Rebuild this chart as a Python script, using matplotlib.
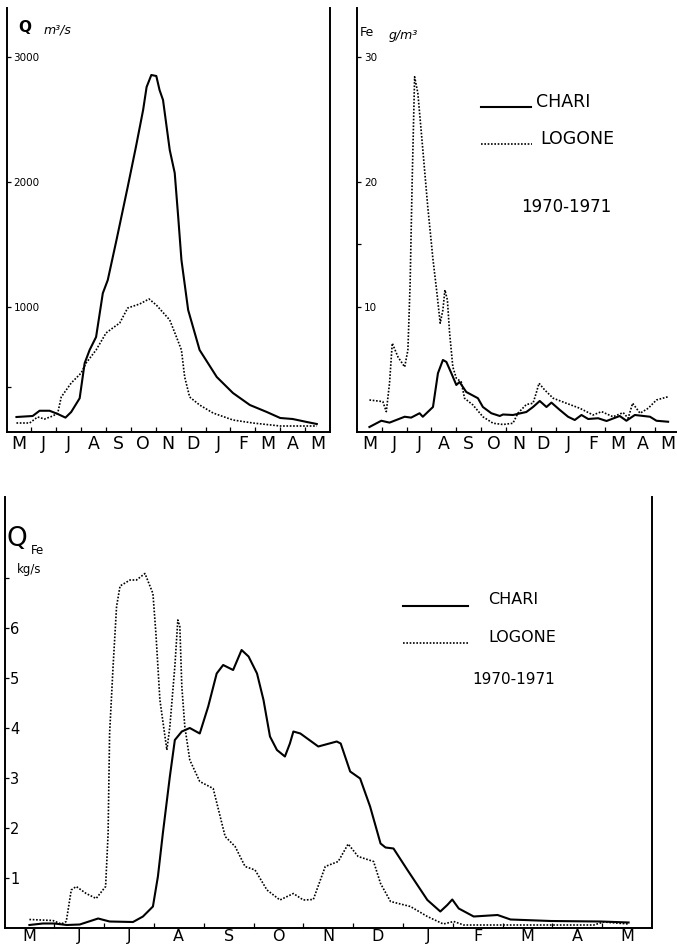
import numpy as np
import matplotlib
matplotlib.use("Agg")
from matplotlib import pyplot as plt

plt.rcParams['font.family'] = ['DejaVu Sans']

# x positions are in months counted from 1 May 1970
months = ['M', 'J', 'J', 'A', 'S', 'O', 'N', 'D', 'J', 'F', 'M', 'A', 'M']

# --- discharge Q (m3/s)
q_chari_x = [0.4, 1.05, 1.33, 1.73, 2.06, 2.37, 2.6, 2.94, 3.14, 3.34, 3.6, 3.87, 4.07, 4.42,
             4.87, 5.2, 5.49, 5.63, 5.82, 6.02, 6.15, 6.29, 6.56, 6.76, 6.9, 7.03, 7.3, 7.76,
             8.45, 9.1, 9.78, 10.46, 11.0, 11.5, 12.07, 12.47]
q_chari_y = [120, 128, 170, 170, 144, 115, 160, 270, 550, 656, 760, 1110, 1216, 1536,
             1960, 2280, 2576, 2760, 2856, 2848, 2736, 2656, 2256, 2072, 1720, 1376, 976, 656,
             440, 312, 216, 160, 112, 104, 80, 64]
q_logone_x = [0.4, 0.93, 1.25, 1.53, 1.86, 2.06, 2.2, 2.6, 3.0, 3.2, 3.6, 4.0, 4.27, 4.55,
              4.87, 5.35, 5.73, 6.02, 6.56, 6.83, 7.03, 7.16, 7.36, 7.76, 8.3, 9.1, 9.9, 11.0, 12.47]
q_logone_y = [72, 72, 120, 104, 128, 152, 280, 392, 472, 552, 656, 792, 832, 872,
              992, 1024, 1064, 1016, 896, 760, 656, 440, 280, 216, 152, 96, 72, 48, 48]

# --- iron concentration Fe (g/m3)
fe_chari_x = [0.5, 0.98, 1.31, 1.92, 2.18, 2.52, 2.65, 3.06, 3.26, 3.46, 3.6, 3.8, 4.0, 4.13,
              4.4, 4.87, 5.07, 5.41, 5.75, 5.88, 6.28, 6.82, 7.09, 7.36, 7.63, 7.83, 8.17,
              8.5, 8.77, 9.04, 9.31, 9.71, 10.05, 10.58, 10.85, 11.19, 11.8, 12.06, 12.53]
fe_chari_y = [0.4, 0.9, 0.75, 1.22, 1.15, 1.5, 1.22, 2.0, 4.7, 5.76, 5.6, 4.7, 3.76, 4.0,
              3.2, 2.7, 2.0, 1.5, 1.28, 1.4, 1.36, 1.6, 2.0, 2.48, 2.0, 2.35, 1.76,
              1.22, 0.96, 1.36, 1.04, 1.1, 0.88, 1.28, 0.9, 1.36, 1.22, 0.9, 0.82]
fe_logone_x = [0.5, 1.04, 1.18, 1.31, 1.42, 1.65, 1.92, 2.05, 2.14, 2.22, 2.32, 2.45, 2.65,
               2.85, 3.06, 3.22, 3.35, 3.46, 3.54, 3.64, 3.73, 3.86, 4.0, 4.2, 4.33, 4.67,
               5.07, 5.48, 5.88, 6.28, 6.48, 6.82, 7.09, 7.23, 7.33, 7.56, 7.9, 8.43, 8.97,
               9.51, 9.85, 10.31, 10.72, 10.92, 11.1, 11.4, 11.73, 12.06, 12.53]
fe_logone_y = [2.56, 2.43, 1.63, 3.9, 7.1, 6.0, 5.2, 6.56, 11.9, 19.9, 28.4, 27.1, 22.6,
               18.0, 13.8, 11.1, 8.7, 9.76, 11.36, 10.56, 7.9, 5.2, 4.3, 4.0, 2.7, 2.16,
               1.22, 0.7, 0.6, 0.7, 1.5, 2.2, 2.3, 3.2, 3.9, 3.36, 2.7, 2.3, 1.9,
               1.36, 1.63, 1.22, 1.55, 1.1, 2.3, 1.5, 1.9, 2.56, 2.82]

# --- iron flux QFe (kg/s)
qfe_chari_x = [0.5, 0.77, 1.0, 1.25, 1.51, 1.88, 2.11, 2.58, 2.78, 2.98, 3.08, 3.18, 3.32,
               3.42, 3.56, 3.72, 3.92, 4.09, 4.26, 4.39, 4.59, 4.76, 4.9, 5.07, 5.2, 5.33,
               5.47, 5.63, 5.73, 5.8, 5.94, 6.3, 6.67, 6.75, 6.94, 7.14, 7.34, 7.55, 7.65,
               7.81, 8.09, 8.49, 8.75, 8.89, 8.99, 9.12, 9.42, 9.9, 10.16, 10.97, 11.97, 12.53]
qfe_chari_y = [0.06, 0.09, 0.09, 0.06, 0.07, 0.19, 0.13, 0.12, 0.23, 0.43, 1.03, 1.9, 3.03,
               3.76, 3.93, 4.0, 3.89, 4.43, 5.09, 5.26, 5.16, 5.56, 5.43, 5.09, 4.56, 3.83,
               3.56, 3.43, 3.69, 3.93, 3.89, 3.63, 3.73, 3.69, 3.13, 2.99, 2.43, 1.69, 1.61,
               1.59, 1.16, 0.56, 0.33, 0.46, 0.57, 0.39, 0.23, 0.26, 0.17, 0.14, 0.13, 0.11]
qfe_logone_x = [0.5, 0.97, 1.14, 1.24, 1.34, 1.44, 1.64, 1.84, 2.03, 2.08, 2.11, 2.18, 2.25,
                2.32, 2.52, 2.65, 2.82, 2.98, 3.04, 3.12, 3.26, 3.32, 3.42, 3.48, 3.52, 3.56,
                3.62, 3.72, 3.92, 4.19, 4.33, 4.43, 4.63, 4.83, 5.03, 5.27, 5.53, 5.8, 6.0,
                6.2, 6.44, 6.7, 6.9, 7.1, 7.41, 7.55, 7.75, 8.15, 8.49, 8.81, 9.02, 9.22,
                11.83, 12.03, 12.53]
qfe_logone_y = [0.17, 0.15, 0.08, 0.13, 0.76, 0.83, 0.69, 0.59, 0.83, 1.89, 3.89, 5.23, 6.43,
                6.84, 6.96, 6.96, 7.09, 6.69, 5.89, 4.56, 3.56, 4.03, 5.23, 6.16, 6.03, 4.83,
                4.03, 3.36, 2.93, 2.79, 2.23, 1.83, 1.63, 1.23, 1.16, 0.76, 0.56, 0.69, 0.56,
                0.57, 1.23, 1.33, 1.68, 1.43, 1.33, 0.89, 0.53, 0.43, 0.23, 0.08, 0.13, 0.06,
                0.06, 0.12, 0.08]

W, H = 677, 948
fig = plt.figure(figsize=(W / 100, H / 100), dpi=100)

def box(x0, x1, ytop, ybot):
    return [x0 / W, 1 - ybot / H, (x1 - x0) / W, (ybot - ytop) / H]

solid = dict(color='black', lw=1.5, ls='-')
dots = dict(color='black', lw=1.2, ls=(0, (1, 1)))

def month_axis(ax, size, pad):
    ax.set_xticks(np.arange(13) + 0.5)
    ax.set_xticklabels(months, fontsize=size)
    ax.set_xticks(np.arange(1, 13), minor=True)
    ax.tick_params(axis='x', which='major', length=0, pad=pad)
    ax.tick_params(axis='x', which='minor', direction='in', length=3.5, width=0.9)
    ax.spines['top'].set_visible(False)
    for s in ax.spines.values():
        s.set_linewidth(1.4)

def value_axis(ax, ticks, labels, size, pad, minor=()):
    ax.set_yticks(ticks)
    ax.set_yticklabels(labels, fontsize=size)
    ax.set_yticks(minor, minor=True)
    ax.tick_params(axis='y', which='both', direction='in', length=3, width=0.9, pad=pad)
    for lab in ax.get_yticklabels():
        lab.set_horizontalalignment('left')

# ---- top left: discharge
ax1 = fig.add_axes(box(6.5, 330, 8, 432))
ax1.plot(q_chari_x, q_chari_y, **solid)
ax1.plot(q_logone_x, q_logone_y, **dots)
ax1.set_xlim(0, 13)
ax1.set_ylim(0, 3392)
month_axis(ax1, 12.5, 2.5)
value_axis(ax1, [1000, 2000, 3000], ['1000', '2000', '3000'], 7.5, -5, minor=[360])
fig.text(18 / W, 1 - 27 / H, 'Q', fontsize=11, fontweight='bold', va='center')
fig.text(44 / W, 1 - 30 / H, 'm\u00b3/s', fontsize=9, style='italic', va='center')

# ---- top right: iron concentration
ax2 = fig.add_axes(box(357, 677, 8, 432))
ax2.plot(fe_chari_x, fe_chari_y, **solid)
ax2.plot(fe_logone_x, fe_logone_y, **dots)
ax2.set_xlim(0, 320 / 24.83)
ax2.set_ylim(0, 33.9)
month_axis(ax2, 12.5, 2.5)
ax2.spines['right'].set_visible(False)
value_axis(ax2, [10, 20, 30], ['10', '20', '30'], 7.5, -5, minor=[15])
fig.text(360 / W, 1 - 33 / H, 'Fe', fontsize=9, va='center')
fig.text(389 / W, 1 - 35 / H, 'g/m\u00b3', fontsize=9, style='italic', va='center')
ax2.plot([5.0, 7.0], [26.0, 26.0], **solid)
ax2.plot([5.0, 7.05], [23.0, 23.0], **dots)
ax2.text(7.2, 26.4, 'CHARI', fontsize=12.5, va='center')
ax2.text(7.4, 23.4, 'LOGONE', fontsize=12.5, va='center')
ax2.text(6.6, 18.0, '1970-1971', fontsize=12, va='center')

# ---- bottom: iron flux
ax3 = fig.add_axes(box(4.5, 652, 497, 928))
ax3.plot(qfe_chari_x, qfe_chari_y, **solid)
ax3.plot(qfe_logone_x, qfe_logone_y, **dots)
ax3.set_xlim(0, 13)
ax3.set_ylim(0, 8.62)
month_axis(ax3, 11.5, 1)
value_axis(ax3, [1, 2, 3, 4, 5, 6], ['1', '2', '3', '4', '5', '6'], 10.5, -4, minor=[7])
fig.text(7 / W, 1 - 539 / H, 'Q', fontsize=19, va='center')
fig.text(31 / W, 1 - 550 / H, 'Fe', fontsize=8.5, va='center')
fig.text(17 / W, 1 - 569 / H, 'kg/s', fontsize=8.5, va='center')
ax3.plot([8.0, 9.3], [6.44, 6.44], **solid)
ax3.plot([8.0, 9.32], [5.7, 5.7], **dots)
ax3.text(9.7, 6.56, 'CHARI', fontsize=11.5, va='center')
ax3.text(9.72, 5.8, 'LOGONE', fontsize=11.5, va='center')
ax3.text(9.4, 4.98, '1970-1971', fontsize=11, va='center')

fig.savefig('out.png', dpi=100)
